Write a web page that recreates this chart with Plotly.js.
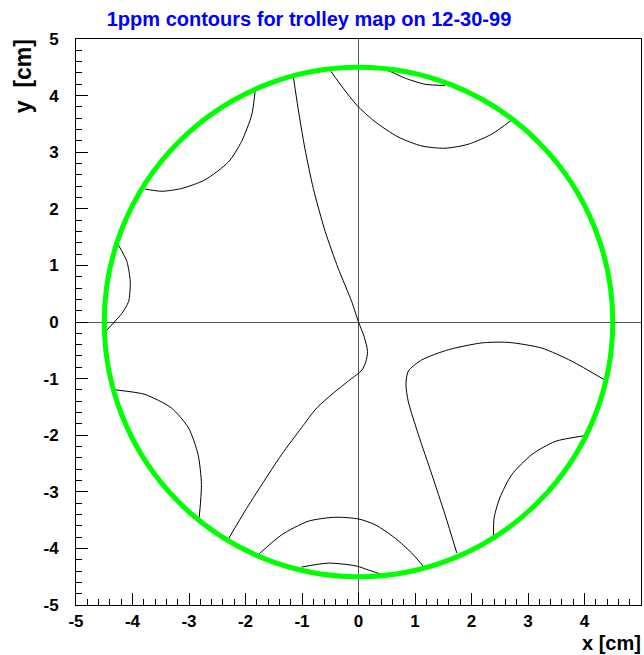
<!DOCTYPE html>
<html>
<head>
<meta charset="utf-8">
<script src="https://cdn.plot.ly/plotly-3.0.1.min.js"></script>
<style>html,body{margin:0;padding:0;background:#fff;}#chart{width:644px;height:655px;}</style>
</head>
<body>
<div id="chart"></div>
<script>
// ---- data ----
const titleText = "1ppm contours for trolley map on 12-30-99";
const xTickVals = [-5, -4, -3, -2, -1, 0, 1, 2, 3, 4, 5];
const yTickVals = [-5, -4, -3, -2, -1, 0, 1, 2, 3, 4, 5];
const circleRadius = 4.5;

// contour curves (cm)
const topLeftArcX = [-1.83, -1.89, -2.07, -2.30, -2.72, -3.13, -3.48, -3.78];
const topLeftArcY = [4.08, 3.66, 3.19, 2.83, 2.51, 2.36, 2.31, 2.35];

const leftArcX = [-4.25, -4.10, -4.04, -4.07, -4.19, -4.34, -4.46];
const leftArcY = [1.36, 1.07, 0.71, 0.36, 0.15, -0.02, -0.15];

const centralX = [-1.15, -1.07, -0.95, -0.80, -0.59, -0.36, -0.12, 0.00, 0.10, 0.16, 0.13, 0.06, -0.15, -0.45, -0.74, -1.01, -1.36, -1.71, -2.01, -2.30];
const centralY = [4.31, 3.78, 3.07, 2.36, 1.60, 0.95, 0.36, 0.00, -0.26, -0.52, -0.70, -0.85, -1.02, -1.26, -1.52, -1.87, -2.34, -2.87, -3.34, -3.83];

const lowerLeftArcX = [-4.30, -3.78, -3.31, -3.01, -2.84, -2.78, -2.82];
const lowerLeftArcY = [-1.20, -1.28, -1.52, -1.87, -2.34, -2.87, -3.46];

const bottomArcX = [-1.76, -1.36, -0.89, -0.42, 0.00, 0.29, 0.65, 0.94, 1.15];
const bottomArcY = [-4.10, -3.76, -3.52, -3.45, -3.48, -3.58, -3.82, -4.08, -4.32];

const bottomSmallX = [-1.01, -0.53, -0.04, 0.17, 0.38];
const bottomSmallY = [-4.33, -4.26, -4.31, -4.38, -4.45];

const rightLoopX = [4.35, 3.77, 3.24, 2.65, 2.18, 1.59, 1.12, 0.88, 0.84, 0.88, 1.06, 1.30, 1.53, 1.74];
const rightLoopY = [-1.02, -0.69, -0.46, -0.36, -0.37, -0.49, -0.67, -0.87, -1.11, -1.40, -1.99, -2.70, -3.40, -4.08];

const lowerRightArcX = [4.00, 3.48, 3.07, 2.71, 2.50, 2.40, 2.39];
const lowerRightArcY = [-2.01, -2.11, -2.34, -2.70, -3.11, -3.46, -3.79];

const topRightArcX = [-0.49, -0.27, -0.03, 0.29, 0.70, 1.12, 1.53, 1.94, 2.36, 2.70];
const topRightArcY = [4.43, 4.13, 3.83, 3.54, 3.27, 3.11, 3.07, 3.14, 3.32, 3.56];

const topSmallX = [0.25, 0.50, 0.82, 1.18, 1.53];
const topSmallY = [4.49, 4.45, 4.31, 4.20, 4.18];

const curves = [
  [topLeftArcX, topLeftArcY],
  [leftArcX, leftArcY],
  [centralX, centralY],
  [lowerLeftArcX, lowerLeftArcY],
  [bottomArcX, bottomArcY],
  [bottomSmallX, bottomSmallY],
  [rightLoopX, rightLoopY],
  [lowerRightArcX, lowerRightArcY],
  [topRightArcX, topRightArcY],
  [topSmallX, topSmallY]
];

// ---- chart ----
const traces = curves.map(c => ({
  x: c[0], y: c[1], type: 'scatter', mode: 'lines',
  line: {color: '#000000', width: 1, shape: 'spline', smoothing: 0.7},
  hoverinfo: 'skip', showlegend: false
}));

const fam = 'Liberation Sans, Arial, sans-serif';
const tickFont = {family: fam, size: 17, color: '#000'};

const axisCommon = {
  range: [-5, 5], autorange: false, tickmode: 'array',
  ticks: 'inside', ticklen: 12, tickwidth: 1, tickcolor: '#000',
  showline: true, linecolor: '#000', linewidth: 1, mirror: true,
  showgrid: false, zeroline: true, zerolinecolor: '#555', zerolinewidth: 1,
  minor: {dtick: 0.2, ticks: 'inside', ticklen: 6, tickwidth: 1, tickcolor: '#000', showgrid: false},
  tickfont: tickFont, fixedrange: true
};

const layout = {
  width: 644, height: 655,
  margin: {l: 76, r: 3, t: 39, b: 50},
  paper_bgcolor: '#fff', plot_bgcolor: '#fff',
  showlegend: false,
  title: {
    text: '<b>' + titleText + '</b>',
    font: {family: fam, size: 20, color: '#0000ff'},
    xref: 'container', yref: 'container', x: 309 / 644, y: 1 - 19 / 655,
    xanchor: 'center', yanchor: 'middle'
  },
  xaxis: Object.assign({}, axisCommon, {tickvals: xTickVals, ticktext: xTickVals.map(v => '<b>' + v + '</b>'), ticklabelstandoff: 1}),
  yaxis: Object.assign({}, axisCommon, {tickvals: yTickVals, ticktext: yTickVals.map(v => '<b>' + v + '</b>'), ticklabelstandoff: 13}),
  shapes: [{
    type: 'circle', xref: 'x', yref: 'y',
    x0: -circleRadius, x1: circleRadius, y0: -circleRadius, y1: circleRadius,
    line: {color: '#00ff00', width: 5}, layer: 'above'
  }],
  annotations: [
    {text: '<b>x [cm]</b>', xref: 'paper', yref: 'paper', x: 1.003, y: -0.0665, xanchor: 'right', yanchor: 'middle',
     showarrow: false, font: {family: fam, size: 20, color: '#000'}},
    {text: '<b>y&nbsp; [cm]</b>', xref: 'paper', yref: 'paper', x: -0.094, y: 1.003, xanchor: 'center', yanchor: 'top',
     textangle: -90, showarrow: false, font: {family: fam, size: 23, color: '#000'}}
  ]
};

Plotly.newPlot('chart', traces, layout, {staticPlot: true, displayModeBar: false});
</script>
</body>
</html>
